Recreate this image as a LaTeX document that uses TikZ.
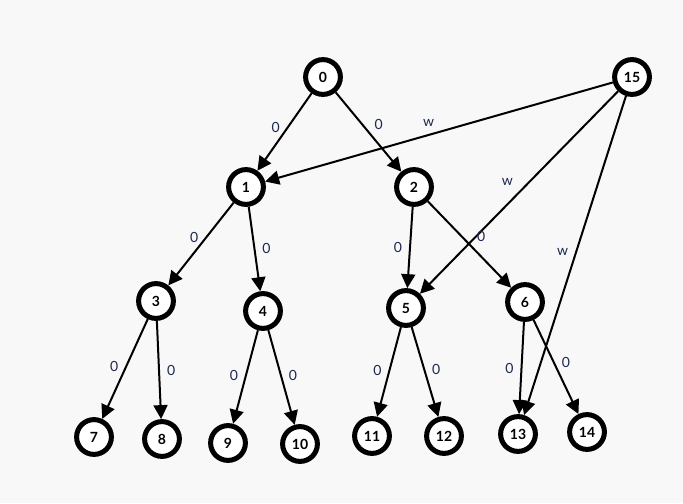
\documentclass[tikz,border=0pt]{standalone}
\usepackage{fontspec}
\setmainfont{Lato}
\usetikzlibrary{arrows.meta}
\definecolor{bgcol}{RGB}{248,248,248}
\definecolor{lblcol}{RGB}{30,40,80}
\begin{document}
\begin{tikzpicture}[x=0.5pt,y=-0.5pt]
    \tikzset{
        vertex/.style={draw, circle, line width=2.5pt, fill=white, minimum size=17.4pt, inner sep=0pt, font=\fontsize{7}{8}\selectfont\bfseries},
        arc/.style={line width=1pt, -{Triangle[length=7pt,width=7pt]}},
        lbl/.style={font=\fontsize{7}{8}\selectfont, text=lblcol, inner sep=3.5pt}
    }
    \useasboundingbox[fill=bgcol] (0,0) rectangle (683,503);

    \draw node[vertex] (v0) at (323,77) {0};
    \draw node[vertex] (v15) at (632,77) {15};
    \draw node[vertex] (v1) at (246,187) {1};
    \draw node[vertex] (v2) at (414,187) {2};
    \draw node[vertex] (v3) at (156,301) {3};
    \draw node[vertex] (v4) at (263,311) {4};
    \draw node[vertex] (v5) at (406,308) {5};
    \draw node[vertex] (v6) at (525,302) {6};
    \draw node[vertex] (v7) at (94,437) {7};
    \draw node[vertex] (v8) at (162,439) {8};
    \draw node[vertex] (v9) at (228,443) {9};
    \draw node[vertex] (v10) at (300,444) {10};
    \draw node[vertex] (v11) at (372,436) {11};
    \draw node[vertex] (v12) at (444,436) {12};
    \draw node[vertex] (v13) at (518,434) {13};
    \draw node[vertex] (v14) at (587,432) {14};

    % from/to/label/side/pos/shift
    \foreach \x/\y/\w/\s/\p/\d in {%
        v0/v1/0/left/0.44/0pt, v0/v2/0/right/0.41/2pt,
        v15/v1/w/above/0.53/0pt, v15/v5/w/left/0.45/-4pt, v15/v13/w/left/0.49/0pt,
        v1/v3/0/left/0.42/0pt, v1/v4/0/right/0.49/0pt,
        v2/v5/0/left/0.5/0pt, v2/v6/0/right/0.41/3.5pt,
        v3/v7/0/left/0.47/0pt, v3/v8/0/right/0.5/0pt,
        v4/v9/0/left/0.48/0pt, v4/v10/0/right/0.48/0pt,
        v5/v11/0/left/0.48/0pt, v5/v12/0/right/0.47/0pt,
        v6/v13/0/left/0.5/0pt, v6/v14/0/right/0.45/0pt%
    }{
        \draw (\x) edge[arc] node[lbl, pos=\p, \s, xshift=\d] {\w} (\y);
    }
\end{tikzpicture}
\end{document}
